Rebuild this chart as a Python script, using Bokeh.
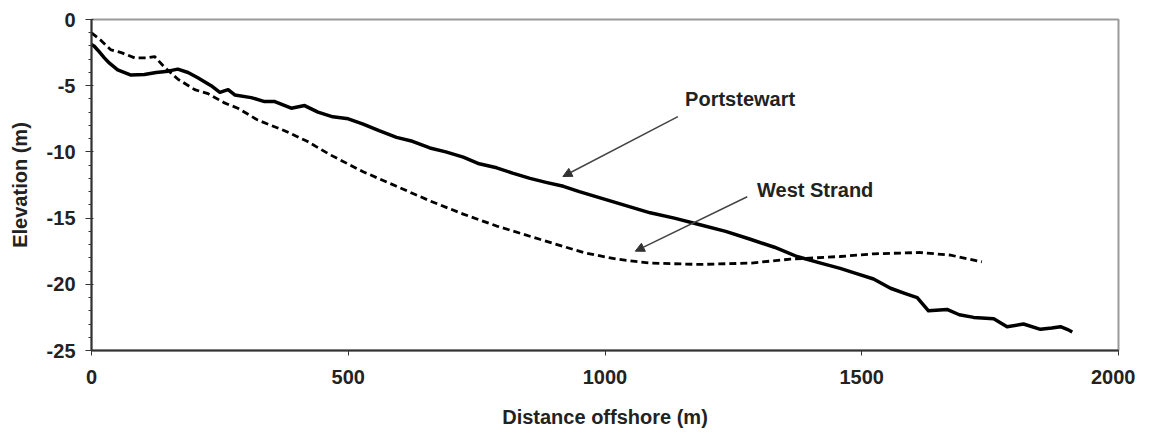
from bokeh.plotting import figure
from bokeh.models import Range1d, FixedTicker, Arrow, NormalHead, Label
from bokeh.embed import file_html
from bokeh.resources import INLINE

# ---- data ----
portstewart_x = [0, 5, 12, 25, 35, 51, 77, 103, 126, 149, 168, 188, 207, 233, 250, 266, 279,
                 311, 337, 357, 389, 415, 441, 470, 500, 529, 560, 594, 625, 659, 690, 724,
                 755, 789, 820, 854, 885, 919, 950, 984, 1036, 1088, 1135, 1185, 1235, 1283,
                 1330, 1374, 1420, 1458, 1490, 1523, 1556, 1585, 1608, 1630, 1666, 1690, 1718,
                 1757, 1783, 1815, 1848, 1870, 1887, 1900, 1910]
portstewart_y = [-1.9, -2.0, -2.3, -2.9, -3.3, -3.8, -4.2, -4.15, -4.0, -3.9, -3.75, -4.0, -4.4,
                 -5.0, -5.5, -5.3, -5.7, -5.9, -6.2, -6.2, -6.7, -6.5, -7.0, -7.35, -7.5, -7.9,
                 -8.4, -8.9, -9.2, -9.7, -10.0, -10.4, -10.9, -11.2, -11.6, -12.0, -12.3, -12.6,
                 -13.0, -13.4, -14.0, -14.6, -15.0, -15.5, -16.0, -16.6, -17.2, -17.9, -18.4,
                 -18.8, -19.2, -19.6, -20.3, -20.7, -21.0, -22.0, -21.9, -22.3, -22.5, -22.6,
                 -23.2, -23.0, -23.4, -23.3, -23.2, -23.4, -23.6]

weststrand_x = [0, 19, 38, 58, 84, 107, 123, 142, 168, 201, 227, 259, 285, 324, 376, 420, 464,
                529, 594, 659, 724, 789, 873, 958, 1023, 1088, 1185, 1283, 1361, 1410, 1458,
                1523, 1614, 1673, 1734]
weststrand_y = [-1.0, -1.6, -2.3, -2.5, -2.9, -2.9, -2.8, -3.6, -4.5, -5.3, -5.6, -6.3, -6.7,
                -7.6, -8.4, -9.2, -10.2, -11.5, -12.6, -13.7, -14.7, -15.6, -16.6, -17.6, -18.1,
                -18.4, -18.5, -18.4, -18.1, -18.0, -17.9, -17.7, -17.6, -17.8, -18.3]

x_ticks = [0, 500, 1000, 1500, 2000]
y_ticks = [0, -5, -10, -15, -20, -25]
y_minor = list(range(-25, 1))

series_names = ["Portstewart", "West Strand"]
# annotation: label anchor (x, y) and arrow start -> tip (data units)
label_pos = [(1156, -6.04), (1296, -12.84)]
arrow_pos = [(1142, -7.33, 918, -11.86), (1277, -13.39, 1059, -17.5)]

FONT = "Liberation Sans"
TXT = "#222222"

p = figure(width=1135, height=431, output_backend="svg", toolbar_location=None,
           x_range=Range1d(0, 2000), y_range=Range1d(-25, 0),
           min_border_left=91, min_border_top=19, min_border_right=17, min_border_bottom=81)
p.grid.visible = False
p.background_fill_color = "white"
p.border_fill_color = "white"
p.outline_line_color = "#9a9a9a"
p.outline_line_width = 2

p.line(portstewart_x, portstewart_y, line_color="black", line_width=3.5, line_join="round")
p.line(weststrand_x, weststrand_y, line_color="black", line_width=2.8, line_dash="7 4")

xa = p.xaxis[0]
xa.ticker = FixedTicker(ticks=x_ticks, minor_ticks=[])
xa.major_label_overrides = {t: str(t) for t in x_ticks}
xa.axis_label = "Distance offshore (m)"
xa.axis_line_color = "#333333"
xa.axis_line_width = 2
xa.major_tick_line_color = "#333333"
xa.major_tick_out = 5
xa.major_tick_in = 0
xa.major_label_standoff = 14
xa.axis_label_standoff = 19

ya = p.yaxis[0]
ya.ticker = FixedTicker(ticks=y_ticks, minor_ticks=y_minor)
ya.major_label_overrides = {t: str(t) for t in y_ticks}
ya.axis_label = "Elevation (m)"
ya.axis_line_color = "#333333"
ya.axis_line_width = 2
ya.major_tick_line_color = "#333333"
ya.major_tick_out = 6
ya.major_tick_in = 2
ya.minor_tick_line_color = "#333333"
ya.minor_tick_out = 3
ya.minor_tick_in = 0
ya.major_label_standoff = 10
ya.axis_label_standoff = 13

for ax in (xa, ya):
    ax.major_label_text_font = FONT
    ax.major_label_text_font_style = "bold"
    ax.major_label_text_font_size = "20px"
    ax.major_label_text_color = TXT
    ax.axis_label_text_font = FONT
    ax.axis_label_text_font_style = "bold"
    ax.axis_label_text_font_size = "20px"
    ax.axis_label_text_color = TXT

for name, (lx, ly), (xs, ys, xe, ye) in zip(series_names, label_pos, arrow_pos):
    p.add_layout(Label(x=lx, y=ly, text=name, text_font=FONT, text_font_style="bold",
                       text_font_size="20px", text_color=TXT, text_baseline="middle",
                       text_align="left"))
    p.add_layout(Arrow(x_start=xs, y_start=ys, x_end=xe, y_end=ye,
                       line_color="#444444", line_width=1.5,
                       end=NormalHead(size=9, fill_color="#333333", line_color="#333333")))

open("out.html", "w").write(file_html(p, INLINE))
